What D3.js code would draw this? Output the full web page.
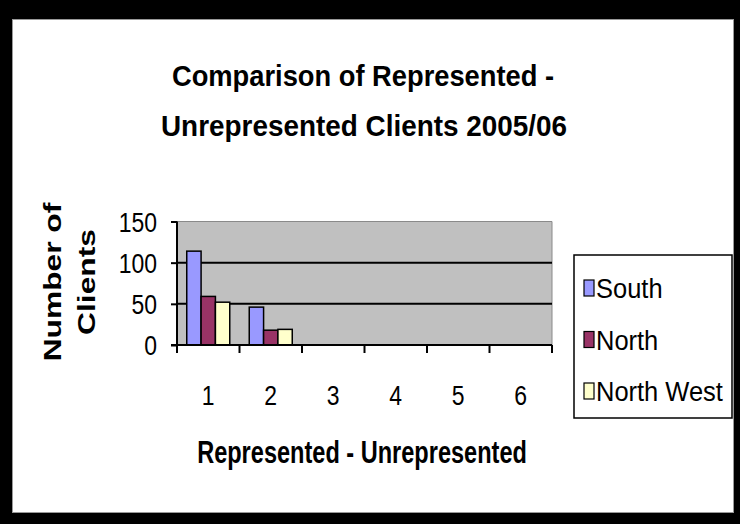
<!DOCTYPE html>
<html>
<head>
<meta charset="utf-8">
<script src="https://cdn.jsdelivr.net/npm/d3@7"></script>
<style>
  html, body { margin: 0; padding: 0; background: #000; }
  svg { display: block; }
  text { font-family: "Liberation Sans", Arial, sans-serif; fill: #000; }
</style>
</head>
<body>
<svg id="chart" width="740" height="524"></svg>
<script>
// Chart data
const categories = ["1", "2", "3", "4", "5", "6"];
const seriesNames = ["South", "North", "North West"];
const southValues = [114, 46, null, null, null, null];
const northValues = [59, 18, null, null, null, null];
const northWestValues = [52, 19, null, null, null, null];
const yTickValues = [0, 50, 100, 150];
const titleLines = ["Comparison of Represented -", "Unrepresented Clients 2005/06"];
const yTitleLines = ["Number of", "Clients"];
const xTitle = "Represented - Unrepresented";

const seriesColors = ["#9999FF", "#993366", "#FFFFCC"];
const seriesValues = [southValues, northValues, northWestValues];

const svg = d3.select("#chart");

// Outer black frame with white chart area
svg.append("rect").attr("x", 0).attr("y", 0).attr("width", 740).attr("height", 524).attr("fill", "#000");
svg.append("rect").attr("x", 12.5).attr("y", 19.5).attr("width", 721).attr("height", 493)
  .attr("fill", "#fff").attr("stroke", "#999").attr("stroke-width", 1);

// Plot area geometry
const plot = { left: 177, right: 552, top: 221.5, bottom: 345 };

const x = d3.scaleBand().domain(categories).range([plot.left, plot.right]).padding(0);
const xs = d3.scaleBand().domain(seriesNames).range([0, x.bandwidth()]).paddingInner(0).paddingOuter(0.68);
const y = d3.scaleLinear().domain([0, 150]).range([plot.bottom, plot.top]);

// Helper: text with horizontal condensing
function label(g, str, tx, ty, opts) {
  const t = g.append("text")
    .attr("transform", `translate(${tx},${ty})` + (opts.rotate ? ` rotate(${opts.rotate})` : "") + ` scale(${opts.sx || 1},1)`)
    .attr("text-anchor", opts.anchor || "middle")
    .attr("font-size", opts.size)
    .attr("font-weight", opts.bold ? "bold" : "normal")
    .text(str);
  return t;
}

// Plot background
svg.append("rect")
  .attr("x", plot.left).attr("y", plot.top)
  .attr("width", plot.right - plot.left).attr("height", plot.bottom - plot.top)
  .attr("fill", "#C0C0C0");

// Plot border (top and right) in soft gray
svg.append("path")
  .attr("d", `M${plot.left},${plot.top}H${plot.right}V${plot.bottom}`)
  .attr("fill", "none").attr("stroke", "#8a8a8a").attr("stroke-width", 1);

// Gridlines
svg.append("g").selectAll("line")
  .data(yTickValues.filter(v => v > 0 && v < 150))
  .join("line")
  .attr("x1", plot.left).attr("x2", plot.right)
  .attr("y1", d => y(d)).attr("y2", d => y(d))
  .attr("stroke", "#000").attr("stroke-width", 2);

// Bars
const barData = [];
categories.forEach((c, i) => {
  seriesNames.forEach((s, j) => {
    const v = seriesValues[j][i];
    if (v != null) barData.push({ c, s, v, color: seriesColors[j] });
  });
});
svg.append("g").selectAll("rect")
  .data(barData)
  .join("rect")
  .attr("x", d => x(d.c) + xs(d.s))
  .attr("y", d => y(d.v))
  .attr("width", xs.bandwidth())
  .attr("height", d => y(0) - y(d.v))
  .attr("fill", d => d.color)
  .attr("stroke", "#000").attr("stroke-width", 1.5);

// Y axis
const yAxis = svg.append("g").attr("transform", `translate(${plot.left},0)`)
  .call(d3.axisLeft(y).tickValues(yTickValues).tickSize(6).tickFormat(""));
yAxis.select(".domain").attr("stroke", "#000").attr("stroke-width", 2).attr("d", `M0,${plot.top}V${plot.bottom}`);
yAxis.selectAll(".tick line").attr("stroke", "#000").attr("stroke-width", 2);

yTickValues.forEach(v => {
  label(svg, String(v), 157, y(v) + 10, { size: 28, sx: 0.82, anchor: "end" });
});

// X axis
const xTicks = [plot.left].concat(categories.map(c => x(c) + x.bandwidth()));
const xAxis = svg.append("g").attr("transform", `translate(0,${plot.bottom})`);
xAxis.append("line").attr("x1", plot.left - 6).attr("x2", plot.right)
  .attr("stroke", "#000").attr("stroke-width", 2);
xAxis.selectAll("line.tk").data(xTicks).join("line").attr("class", "tk")
  .attr("x1", d => d).attr("x2", d => d).attr("y1", 0).attr("y2", 8)
  .attr("stroke", "#000").attr("stroke-width", 2);

categories.forEach(c => {
  label(svg, c, x(c) + x.bandwidth() / 2, 405, { size: 28, sx: 0.82 });
});

// Titles
label(svg, titleLines[0], 363, 86, { size: 30, bold: true, sx: 0.91 });
label(svg, titleLines[1], 364, 136, { size: 30, bold: true, sx: 0.93 });

label(svg, xTitle, 362, 463, { size: 31, bold: true, sx: 0.76 });

label(svg, yTitleLines[0], 61, 282, { size: 23, bold: true, sx: 1.38, rotate: -90 });
label(svg, yTitleLines[1], 95, 282, { size: 23, bold: true, sx: 1.38, rotate: -90 });

// Legend
const legend = svg.append("g");
legend.append("rect").attr("x", 574).attr("y", 255).attr("width", 158).attr("height", 163)
  .attr("fill", "#fff").attr("stroke", "#000").attr("stroke-width", 1.5);
const legendY = d3.scalePoint().domain(seriesNames).range([288, 391]);
seriesNames.forEach((s, j) => {
  legend.append("rect")
    .attr("x", 584).attr("y", legendY(s) - 8).attr("width", 10).attr("height", 16)
    .attr("fill", seriesColors[j]).attr("stroke", "#000").attr("stroke-width", 1.2);
  label(legend, s, 596, legendY(s) + 10, { size: 28, sx: 0.91, anchor: "start" });
});
</script>
</body>
</html>
